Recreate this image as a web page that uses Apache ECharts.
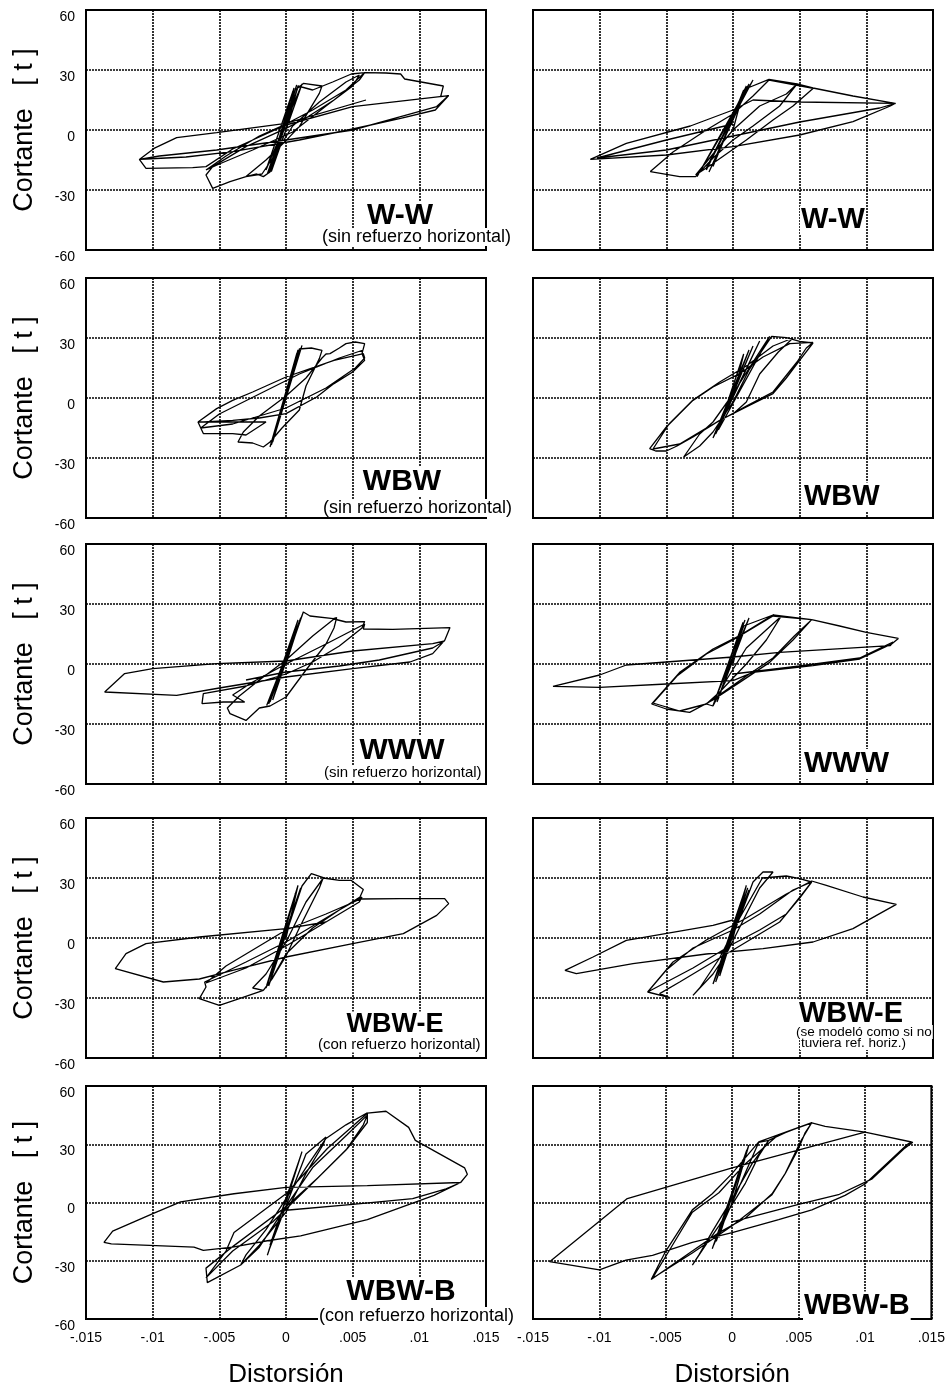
<!DOCTYPE html>
<html>
<head>
<meta charset="utf-8">
<script src="https://cdn.jsdelivr.net/npm/echarts/dist/echarts.min.js"></script>
<style>
  html, body { margin: 0; padding: 0; background: #fff; }
  #chart { width: 948px; height: 1389px; }
</style>
</head>
<body>
<div id="chart"></div>
<script>
// Tick labels
const xTickLabels = ['-.015', '-.01', '-.005', '0', '.005', '.01', '.015'];
const yTickLabels = ['-60', '-30', '0', '30', '60'];

// Hysteresis loops: [distorsión, cortante (t)]
const wwLeft = [
  [0,0],[0.0006,21],[-0.0013,-21.7],[0.0008,22.5],[-0.0011,-20.8],[0.0012,23],[-0.0015,-20],[0.0005,19],[-0.0012,-21],[0.0009,21.5],[-0.0014,-22],[0.0007,20],
  [0.0013,23.3],[0.0027,22],[0.0025,18.3],[0.001,1.7],[-0.0002,-6.7],[-0.0015,-15],[-0.003,-23.3],[-0.0022,-22],[-0.0017,-23.3],[-0.0012,-21],[0,0],[0.0009,22],
  [0.002,20],[0.0035,24],[0.0049,28],[0.0059,28.7],[0.0055,25],[0.0036,15],[0.0015,6],[0,0.8],[-0.003,-8.3],[-0.0055,-18.3],[-0.006,-22.5],[-0.0055,-29.2],[-0.0042,-25.8],[-0.003,-23.3],[-0.0018,-22],
  [-0.001,-14],[0.0005,2],[0.0025,14],[0.0045,24],[0.0055,27.5],[0.005,22],[0.003,12],[0.0005,-1],[-0.0025,-10],[-0.005,-17],[-0.006,-20],[-0.0045,-13],[-0.002,-3],[0,3],[0.002,10],
  [0.0045,20],[0.0059,28.7],[0.0075,28.5],[0.0086,28],[0.0089,25.5],[0.0118,22],[0.0116,16.7],[0.0122,17.2],[0.0112,10],[0.0086,5.8],[0.005,0.5],[0.001,-5],[-0.004,-10.8],[-0.0075,-13.5],[-0.0105,-14.5],[-0.011,-14.7],[-0.0105,-19.2],[-0.007,-18.8],[-0.006,-18.3],[-0.004,-9.5],[0,2.5],[0.005,11.7],[0.0122,17.2],[0.0113,11.7],[0.0086,6.7],[0.005,0],[0,-5],[-0.0052,-10],[-0.0095,-13],[-0.011,-14.7],[-0.0099,-9.2],[-0.0082,-3.8],[-0.0052,-1.3],[0,3.3],[0.006,15]
];

const wwRight = [
  [0,0],[0.0008,20],[-0.0015,-18.3],[0.001,22],[-0.002,-20],[0.0012,23],[-0.0027,-23.3],[0.0015,25],[-0.002,-19],[0.0008,18],[-0.0018,-21],[0.0011,21],
  [0.0027,25.3],[0.0048,23],[0.0035,12],[0.0015,2],[0,-5],[-0.0015,-14],[-0.0028,-23.3],[-0.004,-23.3],[-0.0062,-20.8],[-0.0045,-11],[-0.002,0],[0,8],[0.0015,17],[0.0027,25],[0.006,20.8],[0.0045,12],[0.003,5],[0.001,-5],[-0.002,-19],[-0.0028,-22.5],
  [-0.001,-8],[0,0],[0.002,12],
  [0.004,18],[0.0048,23],[0.006,21],[0.009,17],[0.01215,13.3],[0.0118,12],[0.009,4.2],[0.005,-2.5],[0,-8.3],[-0.005,-12.5],[-0.0107,-14.7],[-0.008,-6.7],[-0.0032,2],[0,10],[0.0015,15],
  [0.005,14],[0.0122,13.3],[0.011,11],[0.005,4],[0,-3],[-0.005,-10],[-0.0102,-14],[-0.005,-5],[0,3]
];

const wbwLeft = [
  [0,0],[0.0008,22],[-0.0011,-23],[0.0009,24],[-0.0012,-24.5],[0.0011,25],[-0.001,-22],[0.0012,26.3],[-0.0011,-23.5],[0.001,24.5],
  [0.0019,25],[0.0027,23.8],[0.0025,19.7],[0.0015,6],[0.001,-6],[-0.0003,-15],[-0.0012,-22],[-0.0017,-24.5],[-0.0025,-22.5],[-0.0036,-22],[-0.0032,-17],[-0.002,-9],[0,1],[0.0015,10],[0.0027,20],[0.003,22],
  [0.0033,22.2],[0.004,25],[0.0045,27.2],[0.0052,28],[0.0059,27.2],[0.0057,22.2],[0.0059,18.8],[0.005,13],[0.0036,7.2],[0.0023,0.5],[0,-7.8],[-0.002,-10],[-0.004,-11.2],[-0.0062,-12],[-0.0066,-12],[-0.0062,-17.8],[-0.004,-17.8],[-0.003,-18.5],[-0.0015,-12],
  [-0.0066,-12],[-0.0052,-5.3],[-0.004,-1.2],[-0.0025,3],[0,10.5],[0.0036,18.8],[0.0058,22.2],[0.0059,20],[0.0052,15],[0.003,5],[0,-5],[-0.004,-13],[-0.0064,-15],[-0.005,-8],[-0.002,2],[0.001,12],[0.004,20],[0.0058,24]
];

const wbwRight = [
  [0,0],[0.0008,22],[-0.001,-14],[0.0015,26],[-0.0013,-18],[0.002,28.5],[-0.0015,-20],[0.0012,24],[-0.0011,-16],
  [0.00275,30.8],[0.0015,18],[0,2],[-0.0015,-12],[-0.0025,-18],[-0.0037,-29.5],[-0.0025,-24],[-0.0015,-17],[0,-2],[0.0012,14],[0.0029,30.8],
  [0.004,30.2],[0.005,28.3],[0.006,27.5],[0.005,18.8],[0.004,10],[0.003,2.2],[0.001,-4.5],[-0.001,-11.2],[-0.003,-19.5],[-0.0042,-24],[-0.005,-26.5],[-0.0058,-26.5],[-0.00625,-25.3],[-0.005,-14.5],[-0.003,-1.2],[-0.0015,5.5],[0.0005,12.2],[0.00225,20.5],[0.00425,27.2],[0.006,27.8],[0.0055,25],[0.0048,18],[0.003,3],[0.001,-4],[-0.002,-15],[-0.004,-23],[-0.006,-25.5],[-0.0048,-13],[-0.003,-1],[-0.001,8],[0.001,16],[0.003,26],[0.0045,30],[0.0034,23],[0.002,12],[0.001,-2],[0,-8]
];

const wwwLeft = [
  [0,0],[0.00105,21.8],[-0.00145,-20.7],[0.0011,23],[-0.0012,-19],[0.0013,26],[-0.001,-18],[0.0009,22],[-0.0013,-20],
  [0.0013,26],[0.0018,24],[0.00355,22.7],[0.0038,23.2],[0.0036,18],[0.003,10],[0.0015,-3],[0,-16.5],[-0.0012,-21],[-0.002,-22],[-0.003,-28.2],[-0.0042,-24.8],[-0.0044,-22],[-0.0035,-16],[-0.002,-8],[0,2],[0.002,14],[0.0036,22.5],
  [0.0045,21],[0.0059,21.2],[0.0057,18],[0.004,9],[0.002,1],[0,-5],[-0.003,-11],[-0.0062,-14.8],[-0.0063,-19.8],[-0.0047,-19],[-0.0031,-19],[-0.004,-15.5],[-0.0025,-9],[0,0],[0.003,10],[0.0059,20],
  [0.0058,17.5],[0.008,17.3],[0.0123,18.2],[0.0119,11.8],[0.011,5.2],[0.0093,1],[0.005,-2.3],[0,-6.5],[-0.005,-12],[-0.0082,-15.7],[-0.0136,-14],[-0.0121,-4.8],[-0.01,-2.3],[-0.0052,0.2],[0,1.5],[0.005,6.5],[0.011,10.2],[0.0119,11.5],[0.011,8],[0.007,2],[0.004,-1],[0,-4],[-0.003,-8]
];

const wwwRight = [
  [0,0],[0.00075,20.8],[-0.0015,-20.8],[0.0009,22],[-0.0013,-17],[0.0012,23],[-0.0012,-19],[0.0008,19],
  [0.003,24.5],[0.0036,23.8],[0.0025,12],[0.001,0],[-0.001,-14],[-0.002,-20],[-0.0015,-21],[-0.0005,-8],[0.001,8],[0.0036,23.8],
  [0.0059,22.2],[0.0045,12],[0.00275,0.8],[0.0005,-9.2],[-0.0015,-18],[-0.00325,-24.2],[-0.005,-22.5],[-0.0061,-20],[-0.004,-4.2],[-0.0015,7.5],[0.0005,14.2],[0.003,24.5],[0.0059,22.2],[0.0046,14],[0.003,3],[0.001,-6],[-0.002,-20],[-0.004,-23.5],[-0.006,-19.5],[-0.0042,-6],[-0.002,5],[0,12],
  [0.003,24],[0.0059,22.2],[0.008,19],[0.01,15.8],[0.0124,12.8],[0.0119,10],[0.0095,2.5],[0.006,-0.8],[0.0015,-4.2],[0,-8.3],[-0.005,-10],[-0.01,-11.7],[-0.0135,-11.2],[-0.01,-5.5],[-0.008,-0.5],[-0.004,1.5],[0,3.5],[0.0035,5.8],[0.0118,9.2],[0.012,11],[0.0095,3],[0.005,-1],[0,-5]
];

const wbweLeft = [
  [0,0],[0.0009,26.3],[-0.00145,-23.7],[0.0008,24],[-0.0012,-22],[0.0011,25],[-0.0015,-25],[0.0007,22],[-0.0013,-24],
  [0.0012,26],[0.0019,32.2],[0.0028,30.2],[0.0025,25],[0.001,5],[0,-9],[-0.001,-20],[-0.0017,-26.2],[-0.0025,-25],[-0.0015,-18],[0,-2],[0.0015,18],[0.0028,30],
  [0.004,28.8],[0.0049,28.8],[0.0058,24.2],[0.00555,20.5],[0.004,14],[0.002,6],[0,-2],[-0.003,-12],[-0.0061,-22],[-0.006,-24.5],[-0.0065,-30.3],[-0.005,-33.7],[-0.0035,-30.3],[-0.0017,-26.2],[-0.0012,-22],[0,-8],[0.002,5],[0.004,14],[0.0057,20.5],[0.0055,18],[0.003,8],[0,-4],[-0.003,-15],[-0.006,-22.5],[-0.0045,-14],[-0.002,-4],[0,4],[0.003,12],[0.0056,19.5],
  [0.0057,19.7],[0.0086,19.7],[0.0119,19.7],[0.0122,17.2],[0.0113,11.3],[0.0088,2.2],[0.005,-2.8],[0,-9.5],[-0.004,-16.2],[-0.0065,-20.5],[-0.0092,-22],[-0.0128,-15.3],[-0.012,-7.8],[-0.0105,-2.8],[-0.0065,0.5],[0,4.7],[0.003,8]
];

const wbweRight = [
  [0,0],[0.001,26.3],[-0.00125,-21.2],[0.0012,24],[-0.0015,-23],[0.0008,22],[-0.001,-19],[0.0011,25],[-0.0013,-22],
  [0.0015,28],[0.00225,33],[0.003,33],[0.002,25],[0.001,12],[-0.0005,-8],[-0.0015,-18],[-0.003,-28.7],[-0.0025,-25],[-0.001,-10],[0.0005,10],[0.0022,30],
  [0.004,31],[0.005,29.7],[0.0059,28],[0.005,20],[0.0035,8],[0.0015,0],[0,-6],[-0.002,-14],[-0.004,-22],[-0.0055,-27.8],[-0.00475,-29.8],[-0.0064,-27],[-0.005,-16],[-0.003,-5],[0,4],[0.002,12],[0.0045,24],[0.0059,28],[0.0052,22],[0.004,12],[0.002,4],[0,-3],[-0.003,-15],[-0.0064,-27],[-0.0045,-12],[-0.002,-1],[0.001,10],[0.004,22],[0.0059,28.5],
  [0.007,26.3],[0.00975,20.5],[0.01225,16.8],[0.011,12.2],[0.009,4.7],[0.006,-2],[0.00225,-5.3],[-0.002,-8],[-0.0075,-12.8],[-0.01175,-17.8],[-0.0126,-16.2],[-0.0105,-9.5],[-0.008,-1.2],[-0.0015,6.3],[0,9]
];

const wbwbLeft = [
  [0,0],[0.0012,26.2],[-0.0014,-27.2],[0.001,22],[-0.0012,-22],[0.0008,18],[-0.001,-18],[0.0011,24],[-0.0013,-25],
  [0.0015,25],[0.003,33.7],[0.0028,30],[0.0015,15],[0,-5],[-0.002,-22],[-0.0034,-32.2],[-0.003,-27],[-0.0015,-14],[0,2],[0.0015,18],[0.003,33],
  [0.0045,40],[0.0061,46.2],[0.0061,41.2],[0.0046,27.8],[0.0024,12.8],[0,-2.2],[-0.0039,-22.2],[-0.006,-33.8],[-0.0059,-41.3],[-0.0034,-32.2],[-0.002,-23],[0,-2],[0.002,18],[0.0046,35],[0.0061,45],[0.0058,40],[0.0045,27],[0.002,10],[-0.001,-10],[-0.004,-25],[-0.006,-38.8],[-0.0045,-25],[-0.0039,-15.5],[0,4.5],[0.0031,27.8],[0.0061,46],
  [0.0075,47],[0.0092,38.7],[0.0097,32],[0.0134,17.8],[0.0136,14.5],[0.0131,10.3],[0.0111,3.7],[0.0061,-8.8],[0.0011,-17.2],[-0.0014,-19.7],[-0.004,-23],[-0.0062,-24.7],[-0.0069,-23],[-0.0131,-21.3],[-0.01365,-20.5],[-0.013,-14.7],[-0.0099,-5.5],[-0.0079,0.3],[-0.0039,4.5],[0,7.8],[0.0061,8.7],[0.0131,10.3],[0.012,7],[0.0095,2],[0.005,-1],[0,-4]
];

const wbwbRight = [
  [0,0],[0.00125,29.5],[-0.0015,-23.8],[0.001,25],[-0.0012,-20],[0.0008,22],[-0.001,-18],[0.0011,27],[-0.0014,-22],
  [0.002,31],[0.00275,32],[0.002,24],[0.001,10],[-0.001,-12],[-0.002,-22],[-0.003,-32.2],[-0.0025,-27],[-0.0015,-15],[0,2],[0.0015,20],[0.00275,32],
  [0.004,36],[0.006,41.2],[0.0055,36],[0.005,27.8],[0.004,15],[0.003,4.5],[0.001,-8],[-0.001,-15.5],[-0.003,-25],[-0.0061,-39.7],[-0.005,-25],[-0.003,-3.8],[-0.0015,4.5],[0,15],[0.002,31.2],[0.006,41.2],[0.0052,32],[0.004,15],[0.003,4],[0,-12],[-0.003,-26],[-0.006,-39],[-0.0045,-22],[-0.003,-5],[-0.001,5],[0.001,20],[0.0035,35],[0.006,41],
  [0.007,39.2],[0.01,36.2],[0.0135,31.2],[0.0132,30],[0.01,9.5],[0.0085,3.7],[0.006,-3.8],[0.0035,-8.8],[0,-15.5],[-0.003,-20.5],[-0.006,-27.2],[-0.008,-29.7],[-0.01,-34.7],[-0.01375,-30.5],[-0.01,-9.7],[-0.0079,2],[0,17.8],[0.01,36.2],[0.0136,31],[0.013,28],[0.0105,12],[0.008,4],[0.005,-1],[0,-10]
];

// Panel layout: 5 rows x 2 columns
const colLeft = [86, 533];
const rowTop = [10, 278, 544, 818, 1086];
const panelW = 400, panelH = 240;

const loops = [
  [wwLeft, wwRight],
  [wbwLeft, wbwRight],
  [wwwLeft, wwwRight],
  [wbweLeft, wbweRight],
  [wbwbLeft, wbwbRight]
];

const FONT = '"Liberation Sans", Arial, Helvetica, sans-serif';
const gridLine = { color: '#000', width: 1.6, type: [2, 1] };

const grids = [], xAxes = [], yAxes = [], series = [];
let idx = 0;
for (let r = 0; r < 5; r++) {
  for (let c = 0; c < 2; c++) {
    grids.push({
      left: colLeft[c], top: rowTop[r], width: panelW, height: panelH,
      show: true, borderColor: '#000', borderWidth: 2, backgroundColor: '#fff'
    });
    const bottomRow = r === 4;
    const leftCol = c === 0;
    xAxes.push({
      gridIndex: idx, type: 'value', min: -0.015, max: 0.015, interval: 0.005,
      axisLine: { show: false }, axisTick: { show: false },
      splitLine: { show: true, lineStyle: gridLine },
      axisLabel: {
        show: bottomRow, margin: 12, color: '#000', fontSize: 14, fontFamily: FONT,
        formatter: v => xTickLabels[Math.round((v + 0.015) / 0.005)]
      },
      name: bottomRow ? 'Distorsión' : '',
      nameLocation: 'middle', nameGap: 43,
      nameTextStyle: { fontSize: 26, fontFamily: FONT, color: '#000' }
    });
    yAxes.push({
      gridIndex: idx, type: 'value', min: -60, max: 60, interval: 30,
      axisLine: { show: false }, axisTick: { show: false },
      splitLine: { show: true, lineStyle: gridLine },
      axisLabel: {
        show: leftCol, margin: 11, color: '#000', fontSize: 14, fontFamily: FONT,
        verticalAlign: 'top',
        formatter: v => yTickLabels[Math.round((v + 60) / 30)]
      },
      name: leftCol ? 'Cortante   [ t ]' : '',
      nameLocation: 'middle', nameGap: 48,
      nameTextStyle: { fontSize: 27, fontFamily: FONT, color: '#000' }
    });
    series.push({
      type: 'line', xAxisIndex: idx, yAxisIndex: idx,
      data: loops[r][c], showSymbol: false, symbol: 'none',
      lineStyle: { color: '#000', width: 1.3 }, z: 5, silent: true
    });
    idx++;
  }
}

// Specimen names and notes
function txt(text, x, y, size, bold, align) {
  return {
    type: 'text', x: x, y: y, z: 100, silent: true,
    style: {
      text: text, fill: '#000',
      font: (bold ? 'bold ' : '') + size + 'px ' + FONT,
      align: align || 'left', verticalAlign: 'middle',
      backgroundColor: '#fff', padding: [0, 1]
    }
  };
}
const graphics = [
  txt('W-W', 400, 216, 30, true, 'center'),
  txt('(sin refuerzo horizontal)', 321, 237, 18, false),
  txt('W-W', 800, 220, 29, true),
  txt('WBW', 402, 482, 30, true, 'center'),
  txt('(sin refuerzo horizontal)', 322, 508, 18, false),
  txt('WBW', 803, 497, 29, true),
  txt('WWW', 402, 751, 30, true, 'center'),
  txt('(sin refuerzo horizontal)', 323, 773, 15, false),
  txt('WWW', 803, 764, 30, true),
  txt('WBW-E', 395, 1025, 27, true, 'center'),
  txt('(con refuerzo horizontal)', 317, 1045, 15, false),
  txt('WBW-E', 798, 1014, 29, true),
  txt('(se modeló como si no', 795, 1032, 13.5, false),
  txt('tuviera ref. horiz.)', 800, 1043, 13.5, false),
  txt('WBW-B', 401, 1292, 30, true, 'center'),
  txt('(con refuerzo horizontal)', 318, 1316, 18, false),
  txt('WBW-B', 803, 1306, 29, true)
];

const chart = echarts.init(document.getElementById('chart'), null, { renderer: 'canvas' });
chart.setOption({
  animation: false,
  backgroundColor: '#fff',
  grid: grids,
  xAxis: xAxes,
  yAxis: yAxes,
  series: series,
  graphic: graphics
});
</script>
</body>
</html>
